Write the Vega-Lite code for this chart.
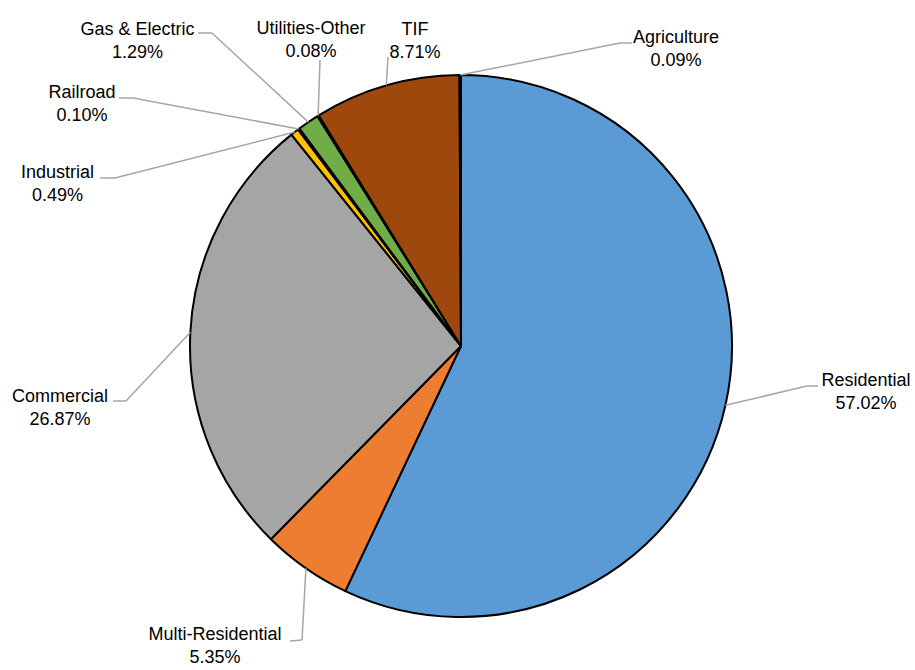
{
  "$schema": "https://vega.github.io/schema/vega-lite/v6.json",
  "width": 900,
  "height": 640,
  "autosize": {"type": "none"},
  "padding": {"left": 11, "top": 26, "right": 4, "bottom": 4},
  "background": "white",
  "config": {"view": {"stroke": null}},
  "data": {
    "values": [
      {"category": "Residential", "share": 57.02},
      {"category": "Multi-Residential", "share": 5.35},
      {"category": "Commercial", "share": 26.87},
      {"category": "Industrial", "share": 0.49},
      {"category": "Railroad", "share": 0.10},
      {"category": "Gas & Electric", "share": 1.29},
      {"category": "Utilities-Other", "share": 0.08},
      {"category": "TIF", "share": 8.71},
      {"category": "Agriculture", "share": 0.09}
    ]
  },
  "transform": [
    {"window": [{"op": "row_number", "as": "idx"}]},
    {"window": [{"op": "sum", "field": "share", "as": "cum"}], "sort": [{"field": "idx", "order": "ascending"}], "frame": [null, 0]},
    {"calculate": "2 * PI * (datum.cum - datum.share / 2) / 100", "as": "mid"},
    {"calculate": "271 * sin(datum.mid)", "as": "ex"},
    {"calculate": "-271 * cos(datum.mid)", "as": "ey"},
    {"calculate": "({'Residential': [346, 40, 357, 40, 405, 40], 'Multi-Residential': [-159, 294, -171, 295, -246, 294], 'Commercial': [-335, 55, -348, 55, -401, 55.5], 'Industrial': [-346, -168, -361, -168, -403.5, -168], 'Railroad': [-328, -248, -342, -248, -379, -248], 'Gas & Electric': [-249, -313, -263, -313, -323.5, -311], 'Utilities-Other': [-141, -286, -141, -286, -150, -312], 'TIF': [-73, -289, -73, -289, -46, -311], 'Agriculture': [159, -303, 171, -303, 215, -303]})[datum.category]", "as": "L"},
    {"calculate": "datum.L[0]", "as": "bx"},
    {"calculate": "datum.L[1]", "as": "by"},
    {"calculate": "datum.L[2]", "as": "tx"},
    {"calculate": "datum.L[3]", "as": "ty"},
    {"calculate": "datum.L[4]", "as": "lx"},
    {"calculate": "datum.L[5]", "as": "ly"},
    {"calculate": "datum.category + '\\n' + format(datum.share, '.2f') + '%'", "as": "label"}
  ],
  "layer": [
    {
      "mark": {"type": "arc", "outerRadius": 271, "stroke": "#000000", "strokeWidth": 2, "strokeJoin": "round"},
      "encoding": {
        "theta": {"field": "share", "type": "quantitative", "stack": true},
        "order": {"field": "idx", "type": "quantitative"},
        "color": {
          "field": "category",
          "type": "nominal",
          "scale": {
            "domain": ["Residential", "Multi-Residential", "Commercial", "Industrial", "Railroad", "Gas & Electric", "Utilities-Other", "TIF", "Agriculture"],
            "range": ["#5B9BD5", "#ED7D31", "#A5A5A5", "#FFC000", "#4472C4", "#70AD47", "#255E91", "#9E480E", "#636363"]
          },
          "legend": null
        }
      }
    },
    {
      "mark": {"type": "rule", "color": "#A6A6A6", "strokeWidth": 1.5},
      "encoding": {
        "x": {"field": "ex", "type": "quantitative", "scale": {"domain": [-450, 450], "nice": false, "zero": false}, "axis": null},
        "y": {"field": "ey", "type": "quantitative", "scale": {"domain": [-320, 320], "nice": false, "zero": false, "reverse": true}, "axis": null},
        "x2": {"field": "bx"},
        "y2": {"field": "by"}
      }
    },
    {
      "mark": {"type": "rule", "color": "#A6A6A6", "strokeWidth": 1.5},
      "encoding": {
        "x": {"field": "bx", "type": "quantitative", "scale": {"domain": [-450, 450], "nice": false, "zero": false}, "axis": null},
        "y": {"field": "by", "type": "quantitative", "scale": {"domain": [-320, 320], "nice": false, "zero": false, "reverse": true}, "axis": null},
        "x2": {"field": "tx"},
        "y2": {"field": "ty"}
      }
    },
    {
      "mark": {"type": "text", "font": "Liberation Sans", "fontSize": 18, "lineBreak": "\n", "lineHeight": 23, "align": "center", "baseline": "alphabetic", "color": "#000000"},
      "encoding": {
        "x": {"field": "lx", "type": "quantitative", "scale": {"domain": [-450, 450], "nice": false, "zero": false}, "axis": null},
        "y": {"field": "ly", "type": "quantitative", "scale": {"domain": [-320, 320], "nice": false, "zero": false, "reverse": true}, "axis": null},
        "text": {"field": "label", "type": "nominal"}
      }
    }
  ]
}
